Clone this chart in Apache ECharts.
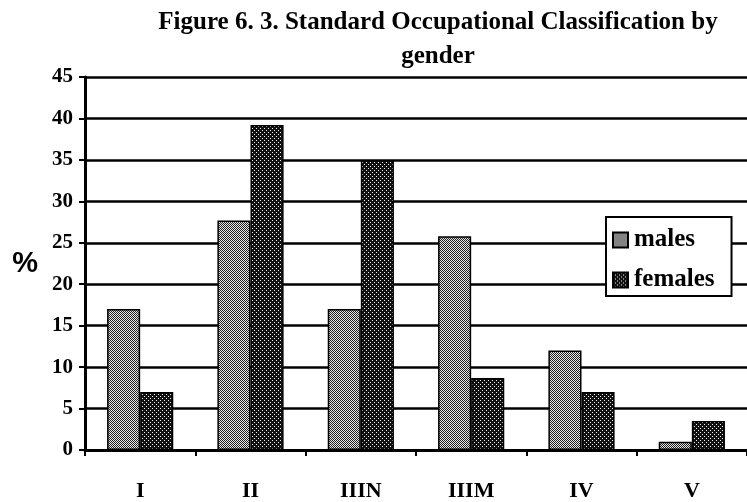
<!DOCTYPE html>
<html lang="en">
<head>
    <meta charset="utf-8" />
    <title>Standard Occupational Classification by gender</title>
    <style>
        html, body { margin: 0; width: 100%; height: 100%; background: #fff; }
        #main { width: 747px; height: 502px; }
    </style>
</head>
<body>
    <div id="main"></div>
    <script src="https://cdn.jsdelivr.net/npm/echarts@6/dist/echarts.min.js"></script>
    <script type="text/javascript">
        var categories = ['I', 'II', 'IIIN', 'IIIM', 'IV', 'V'];
        var males = [17, 27.7, 17, 25.8, 12, 1];
        var females = [7, 39.2, 35, 8.7, 7, 3.5];
        var yTicks = [0, 5, 10, 15, 20, 25, 30, 35, 40, 45];

        // little tiles to imitate the printed hatch fills
        function makeTile(bg, dot, step) {
            var c = document.createElement('canvas');
            c.width = c.height = step * 2;
            var ctx = c.getContext('2d');
            ctx.fillStyle = bg;
            ctx.fillRect(0, 0, c.width, c.height);
            ctx.fillStyle = dot;
            ctx.fillRect(0, 0, 1, 1);
            ctx.fillRect(step, step, 1, 1);
            return c;
        }
        var maleTile = (function () {
            var c = document.createElement('canvas');
            c.width = c.height = 2;
            var ctx = c.getContext('2d');
            ctx.fillStyle = '#e6e6e6';
            ctx.fillRect(0, 0, 2, 2);
            ctx.fillStyle = '#222';
            ctx.fillRect(0, 0, 1, 1);
            ctx.fillRect(1, 1, 1, 1);
            return c;
        })();
        var femaleTile = makeTile('#111', '#eee', 2);

        var serif = '"Liberation Serif", "DejaVu Serif", serif';

        var chart = echarts.init(document.getElementById('main'));
        var option = {
            backgroundColor: '#fff',
            animation: false,
            title: {
                text: 'Figure 6. 3. Standard Occupational Classification by\ngender',
                left: 433,
                top: 1,
                textAlign: 'center',
                textStyle: {
                    fontFamily: serif,
                    fontWeight: 'bold',
                    fontSize: 25,
                    lineHeight: 34,
                    color: '#000'
                }
            },
            legend: {
                orient: 'vertical',
                left: 606,
                top: 217,
                itemWidth: 15,
                itemHeight: 15,
                itemGap: 14,
                padding: [10, 17, 3, 6],
                backgroundColor: '#fff',
                borderColor: '#000',
                borderWidth: 2,
                borderRadius: 0,
                icon: 'rect',
                textStyle: {
                    fontFamily: serif,
                    fontWeight: 'bold',
                    fontSize: 25,
                    lineHeight: 26,
                    color: '#000',
                    padding: [0, 0, 0, 1]
                },
                data: ['males', 'females']
            },
            grid: {
                left: 85,
                right: -6,
                top: 77,
                bottom: 50
            },
            xAxis: {
                type: 'category',
                data: categories,
                axisLine: { lineStyle: { color: '#000', width: 3 } },
                axisTick: { show: true, length: 6, lineStyle: { color: '#000', width: 2 } },
                axisLabel: {
                    margin: 30,
                    fontFamily: serif,
                    fontWeight: 'bold',
                    fontSize: 22,
                    color: '#000'
                }
            },
            yAxis: {
                type: 'value',
                min: 0,
                max: yTicks[yTicks.length - 1],
                interval: yTicks[1] - yTicks[0],
                name: '%',
                nameLocation: 'middle',
                nameRotate: 0,
                nameGap: 47,
                nameTextStyle: {
                    fontFamily: '"Liberation Sans", Arial, sans-serif',
                    fontWeight: 'bold',
                    fontSize: 29,
                    color: '#000',
                    padding: [12, 0, 0, 0]
                },
                axisLine: { show: true, lineStyle: { color: '#000', width: 3 } },
                axisTick: { show: true, length: 6, lineStyle: { color: '#000', width: 2 } },
                axisLabel: {
                    margin: 12,
                    fontFamily: serif,
                    fontWeight: 'bold',
                    fontSize: 21,
                    color: '#000'
                },
                splitLine: { show: true, lineStyle: { color: '#000', width: 2.5 } }
            },
            series: [{
                name: 'males',
                type: 'bar',
                data: males,
                barGap: '0%',
                barCategoryGap: '40%',
                itemStyle: {
                    color: { image: maleTile, repeat: 'repeat' },
                    borderColor: '#000',
                    borderWidth: 1.5
                }
            }, {
                name: 'females',
                type: 'bar',
                data: females,
                itemStyle: {
                    color: { image: femaleTile, repeat: 'repeat' },
                    borderColor: '#000',
                    borderWidth: 1.5
                }
            }]
        };
        chart.setOption(option);
    </script>
</body>
</html>
